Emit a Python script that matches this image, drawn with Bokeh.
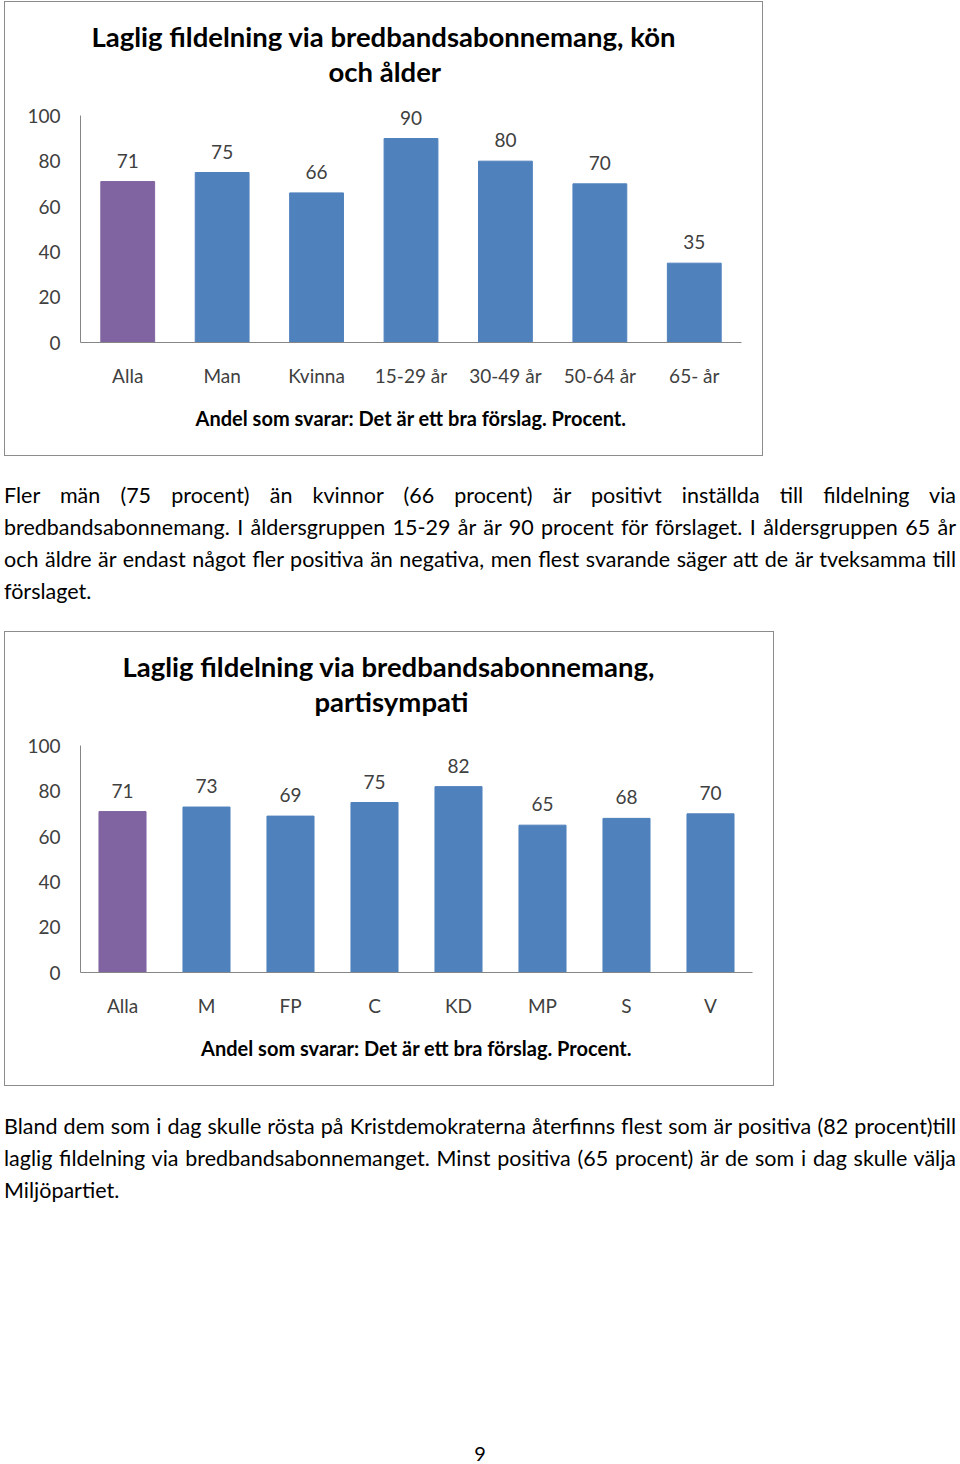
from bokeh.plotting import figure
from bokeh.models import ColumnDataSource, LabelSet, Title, Div, Spacer
from bokeh.layouts import column
from bokeh.core.properties import value
from bokeh.embed import file_html
from bokeh.resources import INLINE

# ---- data ----
cats1 = ["Alla", "Man", "Kvinna", "15-29 år", "30-49 år", "50-64 år", "65- år"]
vals1 = [71, 75, 66, 90, 80, 70, 35]
title1 = ["Laglig fildelning via bredbandsabonnemang, kön", "och ålder"]

cats2 = ["Alla", "M", "FP", "C", "KD", "MP", "S", "V"]
vals2 = [71, 73, 69, 75, 82, 65, 68, 70]
title2 = ["Laglig fildelning via bredbandsabonnemang,", "partisympati"]

subtitle = "Andel som svarar: Det är ett bra förslag. Procent."
yticks = [0, 20, 40, 60, 80, 100]

para1 = [
    "Fler män (75 procent) än kvinnor (66 procent) är positivt inställda till fildelning via",
    "bredbandsabonnemang. I åldersgruppen 15-29 år är 90 procent för förslaget. I åldersgruppen 65 år",
    "och äldre är endast något fler positiva än negativa, men flest svarande säger att de är tveksamma till",
    "förslaget.",
]
para2 = [
    "Bland dem som i dag skulle rösta på Kristdemokraterna återfinns flest som är positiva (82 procent)till",
    "laglig fildelning via bredbandsabonnemanget. Minst positiva (65 procent) är de som i dag skulle välja",
    "Miljöpartiet.",
]
page_no = "9"

BLUE = "#4F81BD"
PURPLE = "#8064A2"
FONT = "Lato"
AXIS = "#868686"
TXT = "#404040"
BORDER = "#8c8c8c"


def make_chart(cats, vals, titles, title_offsets, width, bar_w):
    colors = [PURPLE if c == "Alla" else BLUE for c in cats]
    src = ColumnDataSource(dict(x=cats, top=vals, color=colors, label=[str(v) for v in vals]))
    p = figure(x_range=cats, y_range=(0, 105), width=width, height=455,
               output_backend="svg", toolbar_location=None, title_location=None,
               min_border_left=76, min_border_right=22, min_border_top=103,
               min_border_bottom=114)
    p.vbar(x="x", top="top", width=bar_w, color="color", source=src)
    p.add_layout(LabelSet(x="x", y="top", text="label", source=src, y_offset=21,
                          text_align="center", text_baseline="middle",
                          text_font=value(FONT), text_font_size=value("19px"),
                          text_color=TXT))
    # invisible spacer panel between the plot frame and the title lines
    p.add_layout(Title(text=" ", text_font_size="1px", standoff=14), "above")
    for t, off in reversed(list(zip(titles, title_offsets))):
        p.add_layout(Title(text=t, align="left", offset=off, text_font=FONT,
                           text_font_size="27.5px", text_font_style="bold",
                           text_color="#000000", standoff=0), "above")
    p.xgrid.visible = False
    p.ygrid.visible = False
    p.outline_line_color = None
    p.yaxis.ticker = yticks
    p.yaxis.bounds = (0, 100)
    for ax in (p.xaxis[0], p.yaxis[0]):
        ax.axis_line_color = AXIS
        ax.major_tick_line_color = None
        ax.minor_tick_line_color = None
        ax.major_label_text_font = FONT
        ax.major_label_text_font_size = "19px"
        ax.major_label_text_color = TXT
    p.yaxis.major_label_standoff = 14
    p.xaxis.major_label_standoff = 15
    p.xaxis.axis_label = subtitle
    p.xaxis.axis_label_text_font = FONT
    p.xaxis.axis_label_text_font_size = "20px"
    p.xaxis.axis_label_text_font_style = "bold"
    p.xaxis.axis_label_text_color = "#000000"
    p.xaxis.axis_label_standoff = 16
    return p


def frame_div(width, height):
    html = ('<div style="position:relative;width:0;height:0">'
            '<div style="position:absolute;left:0;top:-12px;width:%dpx;height:%dpx;'
            'box-sizing:border-box;border:1px solid %s;pointer-events:none;z-index:5">'
            '</div></div>' % (width, height, BORDER))
    return Div(text=html, width=width, height=0, margin=0)


def para_div(lines, height):
    html = ""
    for i, ln in enumerate(lines):
        last = "left" if i == len(lines) - 1 else "justify"
        html += ('<div style="width:952px;text-align:justify;text-align-last:%s;white-space:nowrap;'
                 'font-family:Lato;font-size:21.5px;line-height:32px;color:#000">%s</div>'
                 % (last, ln))
    return Div(text=html, width=952, height=height, margin=0)


p1 = make_chart(cats1, vals1, title1, [11, 248], 759, 0.57)
p2 = make_chart(cats2, vals2, title2, [42, 234], 770, 0.56)

num = Div(text='<div style="width:952px;text-align:center;font-family:Lato;font-size:20px;'
               'line-height:18px;color:#000">%s</div>' % page_no,
          width=952, height=18, margin=0)

layout = column(
    frame_div(759, 455),
    p1,
    Spacer(height=23),
    para_div(para1, 128),
    Spacer(height=24),
    frame_div(770, 455),
    p2,
    Spacer(height=24),
    para_div(para2, 96),
    Spacer(height=238),
    num,
    spacing=0,
    margin=(1, 0, 0, 4),
)

open("out.html", "w").write(file_html(layout, INLINE))
